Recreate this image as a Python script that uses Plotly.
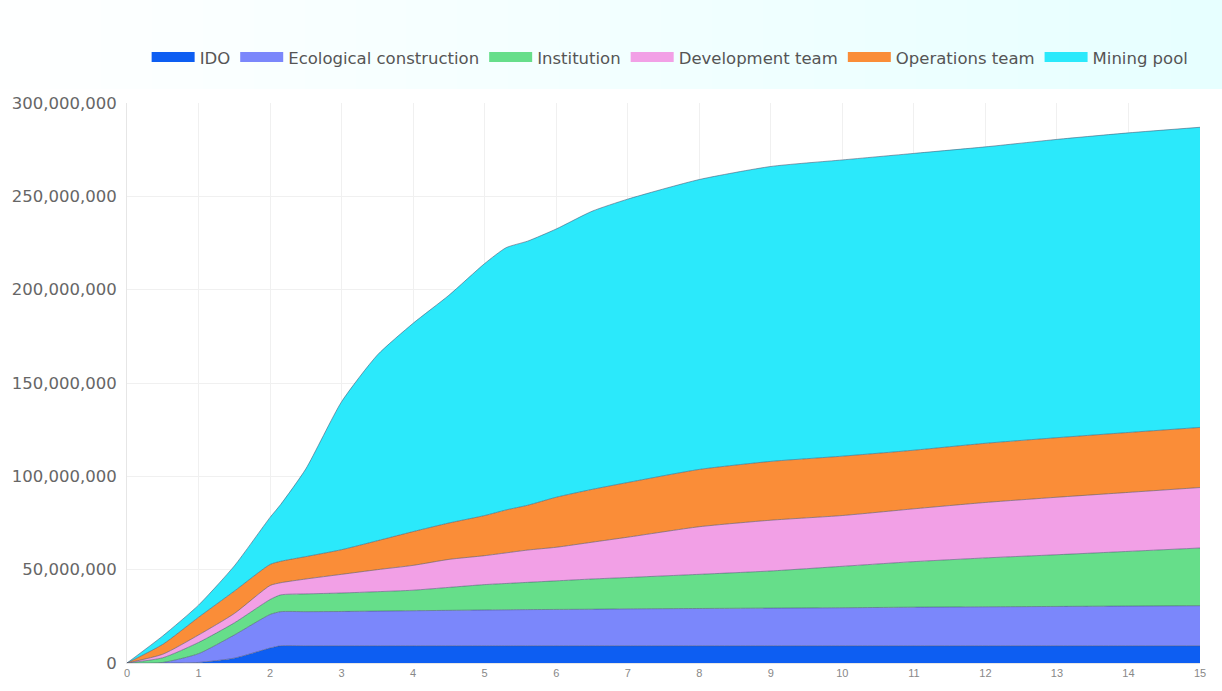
import plotly.graph_objects as go

UNIT = 1_000_000  # values below are in millions of tokens

x_years = [0, 0.5, 1, 1.5, 2, 2.15, 2.5, 3, 3.5, 4, 4.5, 5, 5.3, 5.6, 6, 6.5,
           7, 8, 9, 10, 11, 12, 13, 14, 15]

ido = [0, 0, 0.3, 2.6, 8, 9.2, 9.2, 9.2, 9.2, 9.2, 9.2, 9.2, 9.2, 9.2, 9.2, 9.2,
       9.2, 9.2, 9.2, 9.2, 9.2, 9.2, 9.2, 9.2, 9.2]
ecological = [0, 0.3, 4.7, 12.4, 18, 18.3, 18.3, 18.4, 18.6, 18.8, 19.0, 19.2, 19.3,
              19.4, 19.5, 19.6, 19.8, 20.0, 20.2, 20.4, 20.7, 20.9, 21.1, 21.3, 21.5]
institution = [0, 2.5, 6, 6.5, 8, 9, 9.5, 9.9, 10.4, 11, 12.3, 13.6, 14.1, 14.6, 15.3,
               16.2, 16.8, 18.3, 19.9, 22.2, 24.4, 26.2, 27.7, 29.3, 30.9]
development = [0, 1.9, 4, 5, 7.5, 6.5, 8, 10, 11.8, 13.3, 15, 15.5, 16.4, 17.3, 18,
               19.7, 21.6, 25.5, 27.2, 27.2, 28.3, 29.7, 30.8, 31.6, 32.4]
operations = [0, 5.3, 9.5, 12, 11.3, 11.5, 12, 13.2, 15.5, 18.1, 19.5, 21.5, 23, 24,
              26.8, 28.3, 29.3, 30.7, 31.5, 31.8, 31.4, 31.7, 31.9, 32.1, 32.2]
mining = [0, 4.5, 6.5, 13.5, 25.2, 30.5, 47, 79.3, 99.5, 111.6, 122, 135, 140.5, 141.5,
          143.7, 149, 151.8, 155.3, 158, 158.7, 159, 158.8, 159.8, 160.5, 160.8]

series_names = ["IDO", "Ecological construction", "Institution",
                "Development team", "Operations team", "Mining pool"]
series_values = [ido, ecological, institution, development, operations, mining]
colors = ["#0d5ef2", "#7b87fb", "#66de8a", "#f2a0e6", "#fa8d38", "#2be9fb"]

x_ticks = list(range(0, 16))
y_ticks = [0, 50, 100, 150, 200, 250, 300]

fig = go.Figure()

for name, vals, col in zip(series_names, series_values, colors):
    fig.add_trace(go.Scatter(
        x=x_years, y=[v * UNIT for v in vals], name=name,
        stackgroup="tokens", mode="lines",
        line=dict(color="rgba(70,80,110,0.55)", width=1, shape="spline", smoothing=0.6),
        fillcolor=col, showlegend=False, legendgroup=name,
    ))

for name, col in zip(series_names, colors):
    fig.add_trace(go.Scatter(
        x=[None], y=[None], name=name, mode="lines",
        line=dict(color=col, width=12), legendgroup=name, showlegend=True,
    ))

# faint cyan tint behind the legend band (page background of the source),
# built as many thin overlapping bands so no edge is visible
shapes = []
n_steps = 24
for i in range(n_steps):
    x0 = -0.12 + i * (1.14 / n_steps)
    shapes.append(dict(type="rect", xref="paper", yref="paper", x0=x0, x1=1.03,
                       y0=1.025, y1=1.19, fillcolor="rgba(0,190,190,0.0022)",
                       line=dict(width=0), layer="below"))

fig.update_layout(
    width=1222, height=691,
    margin=dict(l=127, r=22, t=103, b=19),
    paper_bgcolor="white", plot_bgcolor="white",
    shapes=shapes,
    showlegend=True,
    legend=dict(orientation="h", xref="container", x=0.12, xanchor="left",
                yref="container", y=0.917, yanchor="middle",
                font=dict(family="DejaVu Sans", size=16.5, color="#555555"),
                itemwidth=43, bgcolor="rgba(0,0,0,0)", tracegroupgap=0),
    xaxis=dict(range=[0, 15], tickvals=x_ticks, ticktext=[str(t) for t in x_ticks],
               showgrid=True, gridcolor="#f0f0f0", gridwidth=1, zeroline=False,
               showline=True, linecolor="#e6e6e6", ticks="",
               tickfont=dict(family="Liberation Sans", size=11, color="#888888")),
    yaxis=dict(range=[0, 300 * UNIT], tickvals=[t * UNIT for t in y_ticks],
               tickformat=",d", showgrid=True, gridcolor="#f0f0f0", gridwidth=1,
               zeroline=False, showline=True, linecolor="#e6e6e6", ticks="",
               ticklabelstandoff=6,
               tickfont=dict(family="DejaVu Sans", size=16.5, color="#666666")),
)

fig.write_html("out.html")
